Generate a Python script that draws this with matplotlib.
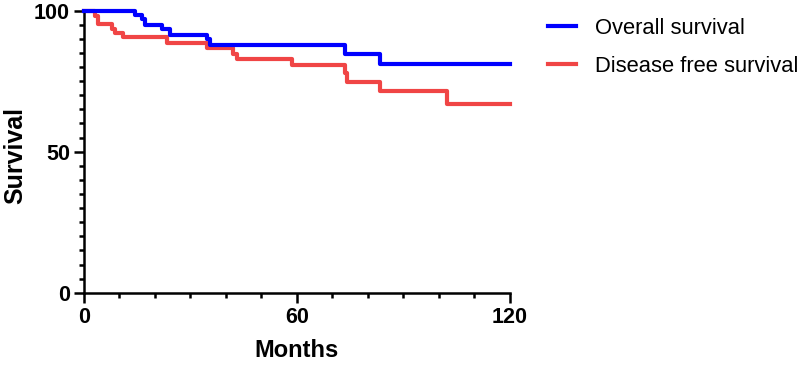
import numpy as np
import matplotlib
matplotlib.use('Agg')
import matplotlib.pyplot as plt
from matplotlib.ticker import MultipleLocator

# Kaplan-Meier steps (month of step, survival after step)
os_months = [0, 14.4, 16.3, 17.2, 21.9, 24.2, 34.6, 35.5, 73.5, 83.4, 120]
os_surv = [100, 98.3, 96.9, 95.0, 93.4, 91.4, 89.8, 87.7, 84.8, 81.2, 81.2]

dfs_months = [0, 3.1, 3.9, 7.8, 8.7, 11.0, 23.3, 34.6, 42.0, 43.0, 58.5, 73.5, 74.1, 83.4, 102.2, 120]
dfs_surv = [100, 98.1, 95.1, 93.4, 92.0, 90.7, 88.7, 86.9, 84.5, 83.0, 80.6, 78.0, 74.7, 71.5, 66.8, 66.8]

labels = ['Overall survival', 'Disease free survival']
colors = ['#0000ff', '#f04545']

plt.rcParams['font.family'] = ['Liberation Sans', 'DejaVu Sans']

fig = plt.figure(figsize=(8.1, 3.66), dpi=100)
ax = fig.add_axes([0.1037, 0.2, 0.5259, 0.771])

ax.step(os_months, os_surv, where='post', color=colors[0], lw=3.0, label=labels[0],
        clip_on=False, zorder=3)
ax.step(dfs_months, dfs_surv, where='post', color=colors[1], lw=3.0, label=labels[1],
        clip_on=False, zorder=2)

ax.set_xlim(0, 120)
ax.set_ylim(0, 100)
ax.set_xticks([0, 60, 120])
ax.set_yticks([0, 50, 100])
ax.xaxis.set_minor_locator(MultipleLocator(10))
ax.yaxis.set_minor_locator(MultipleLocator(5))

for s in ['top', 'right']:
    ax.spines[s].set_visible(False)
for s in ['left', 'bottom']:
    ax.spines[s].set_linewidth(1.8)
    ax.spines[s].set_color('black')

ax.tick_params(which='major', direction='out', length=7, width=1.8, labelsize=15.5, pad=3)
ax.tick_params(which='minor', direction='out', length=3.8, width=1.8)
for t in ax.get_xticklabels() + ax.get_yticklabels():
    t.set_fontweight('bold')

ax.set_xlabel('Months', fontsize=17, fontweight='bold')
ax.set_ylabel('Survival', fontsize=18, fontweight='bold')
ax.xaxis.set_label_coords(0.5, -0.165)
ax.yaxis.set_label_coords(-0.133, 0.488)

fig.legend(loc='upper left', bbox_to_anchor=(0.6655, 0.976), frameon=False,
           fontsize=15.8, handlelength=1.3, handletextpad=0.85, labelspacing=0.8,
           borderaxespad=0)

fig.savefig('out.png', dpi=100)
